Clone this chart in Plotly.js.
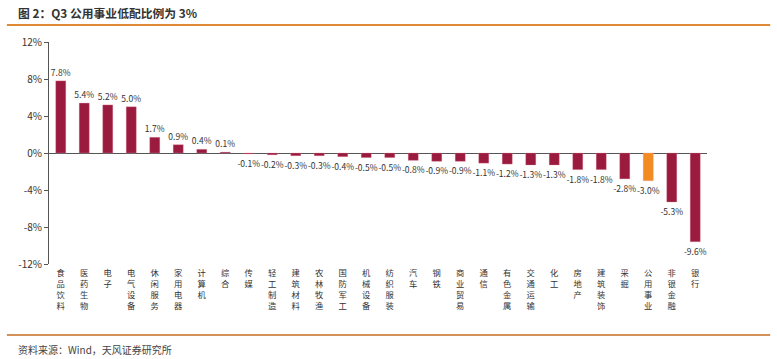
<!DOCTYPE html>
<html><head><meta charset="utf-8">
<script src="https://cdn.plot.ly/plotly-3.0.1.min.js"></script>
<style>body{margin:0;background:#fff}#c{width:777px;height:359px}</style>
</head><body><div id="c"></div>
<script>
const categories = ["食品饮料","医药生物","电子","电气设备","休闲服务","家用电器","计算机","综合","传媒","轻工制造","建筑材料","农林牧渔","国防军工","机械设备","纺织服装","汽车","钢铁","商业贸易","通信","有色金属","交通运输","化工","房地产","建筑装饰","采掘","公用事业","非银金融","银行"];
const values = [7.8,5.4,5.2,5.0,1.7,0.9,0.4,0.1,-0.1,-0.2,-0.3,-0.3,-0.4,-0.5,-0.5,-0.8,-0.9,-0.9,-1.1,-1.2,-1.3,-1.3,-1.8,-1.8,-2.8,-3.0,-5.3,-9.6];
const highlight = "公用事业";
const yTicks = [-12,-8,-4,0,4,8,12];

const cjk = '"Noto Sans CJK SC", "Microsoft YaHei", sans-serif';
const colors = categories.map(c => c === highlight ? '#F28C22' : '#9B1B3F');
const tickText = categories.map(c => c.split('').join('<br>'));

const trace = {
  type: 'bar', x: categories, y: values,
  marker: {color: colors, line: {color: 'rgba(230,150,170,0.6)', width: 0.5}},
  text: values.map(v => v.toFixed(1) + '%'),
  textposition: 'outside', constraintext: 'none', cliponaxis: false,
  textfont: {family: cjk, size: 8.5, color: '#333'},
  hoverinfo: 'none'
};
const layout = {
  width: 777, height: 359,
  margin: {l: 49, r: 70, t: 42, b: 95},
  paper_bgcolor: '#fff', plot_bgcolor: '#fff',
  showlegend: false, bargap: 0.57,
  font: {family: cjk, color: '#333'},
  xaxis: {
    type: 'category', tickmode: 'array', tickvals: categories, ticktext: tickText,
    showline: false, ticks: '', showgrid: false, tickangle: 0, ticklabelstandoff: 3,
    tickfont: {family: cjk, size: 8.3, color: '#333'}
  },
  yaxis: {
    range: [-12, 12], tickmode: 'array', tickvals: yTicks,
    ticktext: yTicks.map(v => v + '%'),
    showline: true, linecolor: '#555', linewidth: 1,
    ticks: 'outside', ticklen: 4, tickcolor: '#555',
    showgrid: false, zeroline: true, zerolinecolor: '#555', zerolinewidth: 1,
    tickfont: {family: cjk, size: 10, color: '#333'}
  },
  shapes: [
    {type: 'line', xref: 'paper', yref: 'paper', x0: -0.064, x1: 1.096, y0: 1.0766, y1: 1.0766, line: {color: '#E08A35', width: 2}},
    {type: 'line', xref: 'paper', yref: 'paper', x0: -0.064, x1: 1.096, y0: -0.32, y1: -0.32, line: {color: '#D4915A', width: 2}}
  ],
  annotations: [
    {xref: 'paper', yref: 'paper', x: -0.0502, y: 1.135, xanchor: 'left', yanchor: 'middle', showarrow: false,
     text: '<b>图 2：Q3 公用事业低配比例为 3%</b>', font: {family: cjk, size: 11.8, color: '#333'}},
    {xref: 'paper', yref: 'paper', x: -0.0502, y: -0.383, xanchor: 'left', yanchor: 'middle', showarrow: false,
     text: '资料来源：Wind，天风证券研究所', font: {family: cjk, size: 10, color: '#444'}}
  ]
};
Plotly.newPlot('c', [trace], layout, {staticPlot: true, displayModeBar: false});
</script></body></html>
